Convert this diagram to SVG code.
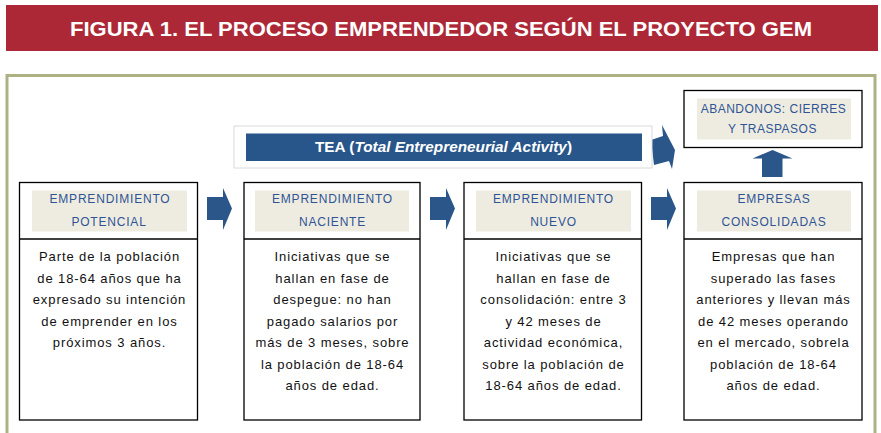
<svg xmlns="http://www.w3.org/2000/svg" width="881" height="433" viewBox="0 0 881 433">
<defs>
<style>
.title{font-family:"Liberation Sans",Arial,sans-serif;font-weight:bold;font-size:20px;fill:#ffffff;text-anchor:middle}
.box{fill:#ffffff;stroke:#000000;stroke-width:1.3}
.div{stroke:#000000;stroke-width:1.3}
.hdrbg{fill:#eeece1}
.hdr{font-family:"Liberation Sans",Arial,sans-serif;font-size:12px;fill:#2f5496;letter-spacing:0.8px;text-anchor:middle}
.body{font-family:"Liberation Sans",Arial,sans-serif;font-size:13px;fill:#111111;letter-spacing:0.9px;text-anchor:middle}
.arrow{fill:#2b5689}
.tea{font-family:"Liberation Sans",Arial,sans-serif;font-size:15px;font-weight:bold;fill:#ffffff;text-anchor:middle}
</style>
<path id="rarrow" d="M0,-11.5 L16,-11.5 L16,-20.5 L25,0 L16,21.5 L16,11.5 L0,11.5 Z"/>
</defs>
<rect x="0" y="0" width="881" height="433" fill="#ffffff"/>
<g id="title">
<rect x="6" y="5" width="872" height="46" fill="#ad2837"/>
<text class="title" x="441" y="36" textLength="742" lengthAdjust="spacingAndGlyphs">FIGURA 1. EL PROCESO EMPRENDEDOR SEGÚN EL PROYECTO GEM</text>
</g>
<rect id="frame" x="7" y="75.5" width="868" height="380" fill="none" stroke="#aeb183" stroke-width="3"/>
<g id="connectors">
<use href="#rarrow" class="arrow" x="207" y="208.5"/>
<use href="#rarrow" class="arrow" x="430" y="208.5"/>
<use href="#rarrow" class="arrow" x="651" y="208.5"/>
<polygon class="arrow" points="651,140 663,136 662,125 675,150 672,169 669,161 654,165"/>
<polygon class="arrow" points="772.5,150 792.5,158.5 782.5,158.5 782.5,177 762,177 762,158.5 752.5,158.5"/>
</g>
<g id="tea">
<rect x="234" y="126" width="418" height="42" fill="#ffffff" stroke="#d9d9d9" stroke-width="1"/>
<rect x="246" y="133.5" width="396" height="27.5" fill="#29568a"/>
<text class="tea" x="443.5" y="152" textLength="257" lengthAdjust="spacingAndGlyphs">TEA (<tspan font-style="italic">Total Entrepreneurial Activity</tspan>)</text>
</g>
<g id="abandonos">
<rect class="box" x="684" y="90.5" width="178" height="57"/>
<rect class="hdrbg" x="697" y="98.5" width="154" height="41"/>
<text class="hdr" style="letter-spacing:0.5px" x="773.5" y="112.5">ABANDONOS: CIERRES</text>
<text class="hdr" style="letter-spacing:0.5px" x="772.5" y="132.5">Y TRASPASOS</text>
</g>
<g id="potencial">
<rect class="box" x="19.5" y="182.5" width="178" height="237.5"/>
<line class="div" x1="19.5" y1="239" x2="197.5" y2="239"/>
<rect class="hdrbg" x="32" y="190.5" width="155" height="41"/>
<text class="hdr" x="110" y="203">EMPRENDIMIENTO</text>
<text class="hdr" x="109" y="225.5">POTENCIAL</text>
<text class="body" x="109.5" y="261">Parte de la población</text>
<text class="body" x="109.5" y="282.5">de 18-64 años que ha</text>
<text class="body" x="109.5" y="304">expresado su intención</text>
<text class="body" x="109.5" y="325.5">de emprender en los</text>
<text class="body" x="109.5" y="347">próximos 3 años.</text>
</g>
<g id="naciente">
<rect class="box" x="244" y="182.5" width="176" height="237.5"/>
<line class="div" x1="244" y1="239" x2="420" y2="239"/>
<rect class="hdrbg" x="255" y="190.5" width="154" height="41"/>
<text class="hdr" x="332.5" y="203">EMPRENDIMIENTO</text>
<text class="hdr" x="332.5" y="225.5">NACIENTE</text>
<text class="body" x="332.5" y="261">Iniciativas que se</text>
<text class="body" x="332.5" y="282.5">hallan en fase de</text>
<text class="body" x="332.5" y="304">despegue: no han</text>
<text class="body" x="332.5" y="325.5">pagado salarios por</text>
<text class="body" x="332.5" y="347">más de 3 meses, sobre</text>
<text class="body" x="332.5" y="368.5">la población de 18-64</text>
<text class="body" x="332.5" y="390">años de edad.</text>
</g>
<g id="nuevo">
<rect class="box" x="464" y="182.5" width="177.5" height="237.5"/>
<line class="div" x1="464" y1="239" x2="641.5" y2="239"/>
<rect class="hdrbg" x="476" y="190.5" width="155" height="41"/>
<text class="hdr" x="553.5" y="203">EMPRENDIMIENTO</text>
<text class="hdr" x="553.5" y="225.5">NUEVO</text>
<text class="body" x="553.5" y="261">Iniciativas que se</text>
<text class="body" x="553.5" y="282.5">hallan en fase de</text>
<text class="body" x="553.5" y="304">consolidación: entre 3</text>
<text class="body" x="553.5" y="325.5">y 42 meses de</text>
<text class="body" x="553.5" y="347">actividad económica,</text>
<text class="body" x="553.5" y="368.5">sobre la población de</text>
<text class="body" x="553.5" y="390">18-64 años de edad.</text>
</g>
<g id="consolidadas">
<rect class="box" x="684" y="182.5" width="178" height="237.5"/>
<line class="div" x1="684" y1="239" x2="862" y2="239"/>
<rect class="hdrbg" x="697" y="190.5" width="154" height="41"/>
<text class="hdr" x="774" y="203">EMPRESAS</text>
<text class="hdr" x="774" y="225.5">CONSOLIDADAS</text>
<text class="body" x="773.5" y="261">Empresas que han</text>
<text class="body" x="773.5" y="282.5">superado las fases</text>
<text class="body" x="773.5" y="304">anteriores y llevan más</text>
<text class="body" x="773.5" y="325.5">de 42 meses operando</text>
<text class="body" x="773.5" y="347">en el mercado, sobrela</text>
<text class="body" x="773.5" y="368.5">población de 18-64</text>
<text class="body" x="773.5" y="390">años de edad.</text>
</g>
</svg>
